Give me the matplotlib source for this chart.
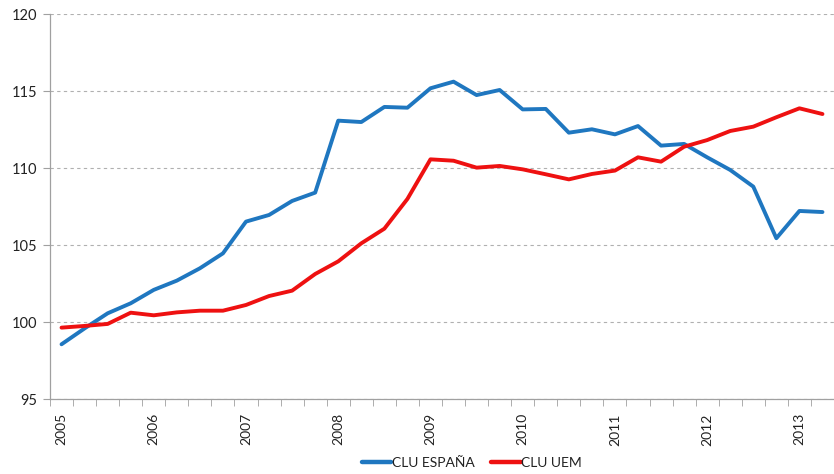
import matplotlib
matplotlib.use("Agg")
import matplotlib.pyplot as plt
import numpy as np

plt.rcParams['font.family'] = ['Lato', 'DejaVu Sans']

years = ["2005", "2006", "2007", "2008", "2009", "2010", "2011", "2012", "2013"]
clu_espana = [98.57, 99.6, 100.58, 101.23, 102.1, 102.7, 103.5, 104.47, 106.53, 106.96,
              107.87, 108.41, 113.08, 112.99, 113.97, 113.92, 115.18, 115.61, 114.74, 115.07,
              113.81, 113.84, 112.30, 112.52, 112.19, 112.73, 111.46, 111.57, 110.70, 109.88,
              108.80, 105.45, 107.22, 107.15]
clu_uem = [99.65, 99.76, 99.89, 100.62, 100.45, 100.64, 100.75, 100.75, 101.12, 101.70,
           102.05, 103.13, 103.95, 105.12, 106.07, 108.0, 110.57, 110.48, 110.03, 110.14,
           109.92, 109.6, 109.27, 109.62, 109.84, 110.70, 110.42, 111.39, 111.82, 112.41,
           112.69, 113.30, 113.88, 113.51]
series_names = ["CLU ESPAÑA", "CLU UEM"]

W, H = 834, 474
fig = plt.figure(figsize=(W / 100, H / 100), dpi=100)
ax = fig.add_axes([50 / W, (H - 399.3) / H, (W - 50) / W, (399.3 - 14) / H])

x = np.arange(len(clu_espana))
ax.plot(x, clu_espana, color='#1f77c0', lw=2.8, label=series_names[0], solid_capstyle='round')
ax.plot(x, clu_uem, color='#ee1111', lw=2.8, label=series_names[1], solid_capstyle='round')

ax.set_xlim(-0.5, 33.22)
ax.set_ylim(95, 120)
ax.set_yticks([95, 100, 105, 110, 115, 120])
ax.yaxis.grid(True, linestyle=(0, (3, 3)), color='#b0b0b0', lw=0.8)
ax.set_axisbelow(True)

ax.set_xticks(np.arange(len(years)) * 4)
ax.set_xticklabels(years, rotation=90)
ax.set_xticks(np.arange(-0.5, 34, 1), minor=True)
ax.tick_params(axis='x', which='major', length=0, pad=10, labelsize=10, colors='#222222')
ax.tick_params(axis='x', which='minor', length=5, color='#a0a0a0', direction='out')
ax.tick_params(axis='y', length=5, color='#a0a0a0', labelsize=10.5, labelcolor='#222222', pad=4)

for s in ['top', 'right']:
    ax.spines[s].set_visible(False)
for s in ['left', 'bottom']:
    ax.spines[s].set_color('#a0a0a0')
    ax.spines[s].set_linewidth(0.9)

leg = fig.legend(loc='center', bbox_to_anchor=(472 / W, 1 - 463 / H), ncol=2, frameon=False,
                 fontsize=10, handlelength=2.1, handletextpad=0.05, columnspacing=1.2,
                 labelcolor='#222222')
for line in leg.get_lines():
    line.set_linewidth(3.2)

fig.savefig("out.png", dpi=100)
